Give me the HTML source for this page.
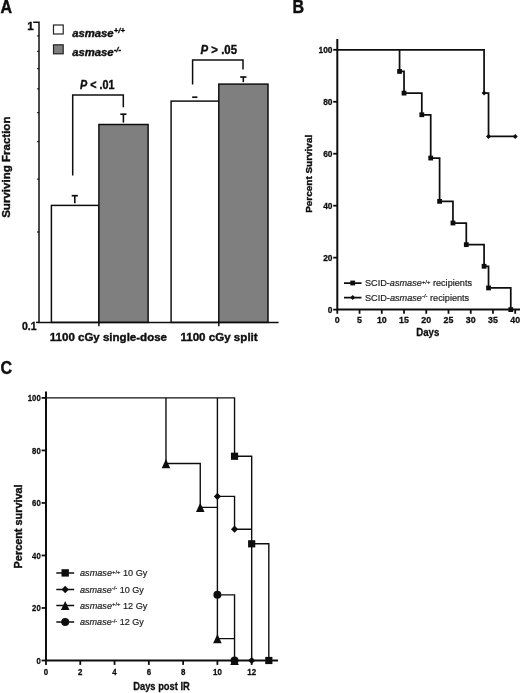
<!DOCTYPE html>
<html lang="en">
<head>
<meta charset="utf-8">
<title>Figure: asmase survival</title>
<style>
html,body{margin:0;padding:0;background:#fff;}
body{width:520px;height:693px;overflow:hidden;}
svg{display:block;font-family:"Liberation Sans", Arial, Helvetica, sans-serif;}
</style>
</head>
<body>
<svg width="520" height="693" viewBox="0 0 520 693">
<defs><filter id="soft" x="0" y="0" width="100%" height="100%" filterUnits="userSpaceOnUse"><feGaussianBlur stdDeviation="0.3"/></filter></defs>
<g filter="url(#soft)">
<rect x="0" y="0" width="520" height="693" fill="#ffffff"/>
<g id="panelA">
<text transform="translate(0.6,12.7) scale(0.9,1)" font-size="17.8" font-weight="bold" fill="#111111" stroke="#111111" stroke-width="0.45">A</text>
<rect x="51.4" y="205.4" width="47.5" height="117.0" fill="#fff" stroke="#111111" stroke-width="1.5"/>
<rect x="98.9" y="124.5" width="49.2" height="197.9" fill="#7f7f7f" stroke="#111111" stroke-width="1.5"/>
<rect x="171.1" y="101.1" width="47.7" height="221.3" fill="#fff" stroke="#111111" stroke-width="1.5"/>
<rect x="218.8" y="84.1" width="49.2" height="238.3" fill="#7f7f7f" stroke="#111111" stroke-width="1.5"/>
<path d="M33.2,22.2 H39 V322.4 H278.6" fill="none" stroke="#111111" stroke-width="1.5"/>
<path d="M36,322.4 H39" fill="none" stroke="#111111" stroke-width="1.5"/>
<path d="M37.2,232.0 H39" stroke="#111111" stroke-width="1.3"/>
<path d="M37.2,179.2 H39" stroke="#111111" stroke-width="1.3"/>
<path d="M37.2,141.7 H39" stroke="#111111" stroke-width="1.3"/>
<path d="M37.2,112.6 H39" stroke="#111111" stroke-width="1.3"/>
<path d="M37.2,88.8 H39" stroke="#111111" stroke-width="1.3"/>
<path d="M37.2,68.7 H39" stroke="#111111" stroke-width="1.3"/>
<path d="M37.2,51.3 H39" stroke="#111111" stroke-width="1.3"/>
<path d="M37.2,35.9 H39" stroke="#111111" stroke-width="1.3"/>
<path d="M98.9,322.4 V326.2" stroke="#111111" stroke-width="1.5"/>
<path d="M218.8,322.4 V326.2" stroke="#111111" stroke-width="1.5"/>
<text x="33.7" y="29.7" font-size="11.6" font-weight="bold" font-style="normal" text-anchor="end" fill="#111111" stroke="#111111" stroke-width="0.4">1</text>
<text x="36.5" y="329.8" font-size="11.4" font-weight="bold" font-style="normal" text-anchor="end" fill="#111111" stroke="#111111" stroke-width="0.4" textLength="14.6" lengthAdjust="spacingAndGlyphs">0.1</text>
<text x="49.8" y="341" font-size="11.2" font-weight="bold" font-style="normal" text-anchor="start" fill="#111111" stroke="#111111" stroke-width="0.4" textLength="117.2" lengthAdjust="spacingAndGlyphs">1100 cGy single-dose</text>
<text x="180.4" y="341" font-size="11.2" font-weight="bold" font-style="normal" text-anchor="start" fill="#111111" stroke="#111111" stroke-width="0.4" textLength="77.3" lengthAdjust="spacingAndGlyphs">1100 cGy split</text>
<text transform="translate(10.4,167.2) rotate(-90)" font-size="11.6" font-weight="bold" text-anchor="middle" fill="#111111" stroke="#111111" stroke-width="0.4" textLength="101.3" lengthAdjust="spacingAndGlyphs">Surviving Fraction</text>
<rect x="53.5" y="25" width="9.7" height="9" fill="#fff" stroke="#222" stroke-width="1.2"/>
<rect x="53.5" y="44.8" width="9.7" height="9" fill="#7f7f7f" stroke="#222" stroke-width="1.2"/>
<text x="72.2" y="37" font-size="11.3" font-weight="bold" font-style="italic" fill="#111111" stroke="#111111" stroke-width="0.4">asmase<tspan font-size="7.8" dy="-4.2">+/+</tspan></text>
<text x="72.2" y="56.3" font-size="11.3" font-weight="bold" font-style="italic" fill="#111111" stroke="#111111" stroke-width="0.4">asmase<tspan font-size="7.8" dy="-4.2">-/-</tspan></text>
<text x="80" y="89.4" font-size="12" font-weight="bold" fill="#111111" stroke="#111111" stroke-width="0.4" textLength="34.4" lengthAdjust="spacingAndGlyphs"><tspan font-style="italic">P</tspan> &lt; .01</text>
<text x="200.6" y="54.4" font-size="12" font-weight="bold" fill="#111111" stroke="#111111" stroke-width="0.4" textLength="36.4" lengthAdjust="spacingAndGlyphs"><tspan font-style="italic">P</tspan> &gt; .05</text>
<path d="M72.7,175.5 V95 H123.3 V107.2" fill="none" stroke="#111111" stroke-width="1.5"/>
<path d="M192.6,84.6 V60 H243 V69.6" fill="none" stroke="#111111" stroke-width="1.5"/>
<path d="M71.7,195.7 H77.9" fill="none" stroke="#111111" stroke-width="1.7"/>
<path d="M74.8,195.7 V203.2" fill="none" stroke="#111111" stroke-width="1.6"/>
<path d="M120.3,114.2 H126.5" fill="none" stroke="#111111" stroke-width="1.7"/>
<path d="M123.4,114.2 V122.6" fill="none" stroke="#111111" stroke-width="1.6"/>
<path d="M192.2,97.2 H197.4" fill="none" stroke="#111111" stroke-width="1.7"/>
<path d="M240.2,77.0 H246.4" fill="none" stroke="#111111" stroke-width="1.7"/>
<path d="M243.3,77.0 V82.2" fill="none" stroke="#111111" stroke-width="1.6"/>
</g>
<g id="panelB">
<text transform="translate(292.4,12.5) scale(0.9,1)" font-size="17.8" font-weight="bold" fill="#111111" stroke="#111111" stroke-width="0.45">B</text>
<path d="M337.3,39 V309.6 H520" fill="none" stroke="#111111" stroke-width="2.0"/>
<path d="M333.2,309.6 H337.3" stroke="#111111" stroke-width="1.8"/>
<text x="332.5" y="312.5" font-size="8.4" font-weight="bold" font-style="normal" text-anchor="end" fill="#111111" stroke="#111111" stroke-width="0.3">0</text>
<path d="M333.2,257.64 H337.3" stroke="#111111" stroke-width="1.8"/>
<text x="332.5" y="260.54" font-size="8.4" font-weight="bold" font-style="normal" text-anchor="end" fill="#111111" stroke="#111111" stroke-width="0.3">20</text>
<path d="M333.2,205.68 H337.3" stroke="#111111" stroke-width="1.8"/>
<text x="332.5" y="208.58" font-size="8.4" font-weight="bold" font-style="normal" text-anchor="end" fill="#111111" stroke="#111111" stroke-width="0.3">40</text>
<path d="M333.2,153.72 H337.3" stroke="#111111" stroke-width="1.8"/>
<text x="332.5" y="156.62" font-size="8.4" font-weight="bold" font-style="normal" text-anchor="end" fill="#111111" stroke="#111111" stroke-width="0.3">60</text>
<path d="M333.2,101.76 H337.3" stroke="#111111" stroke-width="1.8"/>
<text x="332.5" y="104.66" font-size="8.4" font-weight="bold" font-style="normal" text-anchor="end" fill="#111111" stroke="#111111" stroke-width="0.3">80</text>
<path d="M333.2,49.8 H337.3" stroke="#111111" stroke-width="1.8"/>
<text x="332.5" y="52.7" font-size="8.4" font-weight="bold" font-style="normal" text-anchor="end" fill="#111111" stroke="#111111" stroke-width="0.3">100</text>
<path d="M337.3,309.6 V313.8" stroke="#111111" stroke-width="1.8"/>
<text x="337.3" y="322.7" font-size="8.8" font-weight="bold" font-style="normal" text-anchor="middle" fill="#111111" stroke="#111111" stroke-width="0.3">0</text>
<path d="M359.54,309.6 V313.8" stroke="#111111" stroke-width="1.8"/>
<text x="359.54" y="322.7" font-size="8.8" font-weight="bold" font-style="normal" text-anchor="middle" fill="#111111" stroke="#111111" stroke-width="0.3">5</text>
<path d="M381.78,309.6 V313.8" stroke="#111111" stroke-width="1.8"/>
<text x="381.78" y="322.7" font-size="8.8" font-weight="bold" font-style="normal" text-anchor="middle" fill="#111111" stroke="#111111" stroke-width="0.3">10</text>
<path d="M404.02,309.6 V313.8" stroke="#111111" stroke-width="1.8"/>
<text x="404.02" y="322.7" font-size="8.8" font-weight="bold" font-style="normal" text-anchor="middle" fill="#111111" stroke="#111111" stroke-width="0.3">15</text>
<path d="M426.26,309.6 V313.8" stroke="#111111" stroke-width="1.8"/>
<text x="426.26" y="322.7" font-size="8.8" font-weight="bold" font-style="normal" text-anchor="middle" fill="#111111" stroke="#111111" stroke-width="0.3">20</text>
<path d="M448.5,309.6 V313.8" stroke="#111111" stroke-width="1.8"/>
<text x="448.5" y="322.7" font-size="8.8" font-weight="bold" font-style="normal" text-anchor="middle" fill="#111111" stroke="#111111" stroke-width="0.3">25</text>
<path d="M470.74,309.6 V313.8" stroke="#111111" stroke-width="1.8"/>
<text x="470.74" y="322.7" font-size="8.8" font-weight="bold" font-style="normal" text-anchor="middle" fill="#111111" stroke="#111111" stroke-width="0.3">30</text>
<path d="M492.98,309.6 V313.8" stroke="#111111" stroke-width="1.8"/>
<text x="492.98" y="322.7" font-size="8.8" font-weight="bold" font-style="normal" text-anchor="middle" fill="#111111" stroke="#111111" stroke-width="0.3">35</text>
<path d="M515.22,309.6 V313.8" stroke="#111111" stroke-width="1.8"/>
<text x="515.22" y="322.7" font-size="8.8" font-weight="bold" font-style="normal" text-anchor="middle" fill="#111111" stroke="#111111" stroke-width="0.3">40</text>
<text x="427.8" y="336.2" font-size="10.0" font-weight="bold" font-style="normal" text-anchor="middle" fill="#111111" stroke="#111111" stroke-width="0.3" textLength="23" lengthAdjust="spacingAndGlyphs">Days</text>
<text transform="translate(312.3,173.8) rotate(-90)" font-size="9.3" font-weight="bold" text-anchor="middle" fill="#111111" stroke="#111111" stroke-width="0.4" textLength="78" lengthAdjust="spacingAndGlyphs">Percent Survival</text>
<path d="M336.43,49.8H484.95M399.57,48.92V72.31M398.69,71.44H404.89M404.02,70.56V93.98M403.14,93.11H422.69M483.2,93.11H489.4M421.81,92.23V115.62M420.94,114.75H431.58M430.71,113.88V158.94M429.83,158.06H440.48M439.6,157.19V202.22M438.73,201.34H453.82M452.95,200.47V223.88M452.07,223.01H467.17M466.29,222.13V245.53M465.42,244.65H484.95M484.08,243.78V267.17M484.08,48.92V93.98M483.2,266.29H489.4M488.53,265.42V288.83M488.53,92.23V137.26M487.65,287.96H511.64M510.77,287.08V310.48M487.65,136.39H516.1" fill="none" stroke="#111111" stroke-width="1.75"/>
<rect x="397.17" y="69.04" width="4.8" height="4.8" fill="#111111"/>
<rect x="401.62" y="90.71" width="4.8" height="4.8" fill="#111111"/>
<rect x="419.41" y="112.35" width="4.8" height="4.8" fill="#111111"/>
<rect x="428.31" y="155.66" width="4.8" height="4.8" fill="#111111"/>
<rect x="437.2" y="198.94" width="4.8" height="4.8" fill="#111111"/>
<rect x="450.55" y="220.61" width="4.8" height="4.8" fill="#111111"/>
<rect x="463.89" y="242.25" width="4.8" height="4.8" fill="#111111"/>
<rect x="481.68" y="263.89" width="4.8" height="4.8" fill="#111111"/>
<rect x="486.13" y="285.56" width="4.8" height="4.8" fill="#111111"/>
<rect x="508.37" y="307.2" width="4.8" height="4.8" fill="#111111"/>
<path d="M481.58,93.11 L484.08,90.61 L486.58,93.11 L484.08,95.61 Z" fill="#111111"/>
<path d="M486.03,136.39 L488.53,133.89 L491.03,136.39 L488.53,138.89 Z" fill="#111111"/>
<path d="M512.72,136.39 L515.22,133.89 L517.72,136.39 L515.22,138.89 Z" fill="#111111"/>
<path d="M344,283 H361.5 M344,297.6 H361.5" stroke="#111111" stroke-width="1.75"/>
<rect x="350.3" y="280.6" width="4.8" height="4.8" fill="#111111"/>
<path d="M350.2,297.6 L352.7,295.1 L355.2,297.6 L352.7,300.1 Z" fill="#111111"/>
<text x="365" y="286.1" font-size="9.2" fill="#1e1e1e" stroke="#1e1e1e" stroke-width="0.2" textLength="107" lengthAdjust="spacingAndGlyphs">SCID-<tspan font-style="italic">asmase</tspan><tspan font-size="6" dy="-2.6">+/+</tspan><tspan dy="2.6"> recipients</tspan></text>
<text x="365" y="300.8" font-size="9.2" fill="#1e1e1e" stroke="#1e1e1e" stroke-width="0.2" textLength="104.2" lengthAdjust="spacingAndGlyphs">SCID-<tspan font-style="italic">asmase</tspan><tspan font-size="6" dy="-2.6">-/-</tspan><tspan dy="2.6"> recipients</tspan></text>
</g>
<g id="panelC">
<text transform="translate(0.4,373.9) scale(0.9,1)" font-size="17.8" font-weight="bold" fill="#111111" stroke="#111111" stroke-width="0.45">C</text>
<path d="M46.0,391.6 V660.5 H278" fill="none" stroke="#111111" stroke-width="2.0"/>
<path d="M41.6,660.5 H46.0" stroke="#111111" stroke-width="1.8"/>
<text x="40.7" y="663.7" font-size="9.2" font-weight="bold" font-style="normal" text-anchor="end" fill="#111111" stroke="#111111" stroke-width="0.3" textLength="4.3" lengthAdjust="spacingAndGlyphs">0</text>
<path d="M41.6,607.98 H46.0" stroke="#111111" stroke-width="1.8"/>
<text x="40.7" y="611.18" font-size="9.2" font-weight="bold" font-style="normal" text-anchor="end" fill="#111111" stroke="#111111" stroke-width="0.3" textLength="8.6" lengthAdjust="spacingAndGlyphs">20</text>
<path d="M41.6,555.46 H46.0" stroke="#111111" stroke-width="1.8"/>
<text x="40.7" y="558.66" font-size="9.2" font-weight="bold" font-style="normal" text-anchor="end" fill="#111111" stroke="#111111" stroke-width="0.3" textLength="8.6" lengthAdjust="spacingAndGlyphs">40</text>
<path d="M41.6,502.94 H46.0" stroke="#111111" stroke-width="1.8"/>
<text x="40.7" y="506.14" font-size="9.2" font-weight="bold" font-style="normal" text-anchor="end" fill="#111111" stroke="#111111" stroke-width="0.3" textLength="8.6" lengthAdjust="spacingAndGlyphs">60</text>
<path d="M41.6,450.42 H46.0" stroke="#111111" stroke-width="1.8"/>
<text x="40.7" y="453.62" font-size="9.2" font-weight="bold" font-style="normal" text-anchor="end" fill="#111111" stroke="#111111" stroke-width="0.3" textLength="8.6" lengthAdjust="spacingAndGlyphs">80</text>
<path d="M41.6,397.9 H46.0" stroke="#111111" stroke-width="1.8"/>
<text x="40.7" y="401.1" font-size="9.2" font-weight="bold" font-style="normal" text-anchor="end" fill="#111111" stroke="#111111" stroke-width="0.3" textLength="12.9" lengthAdjust="spacingAndGlyphs">100</text>
<path d="M46.0,660.5 V664.9" stroke="#111111" stroke-width="1.8"/>
<text x="46.0" y="675.2" font-size="9.2" font-weight="bold" font-style="normal" text-anchor="middle" fill="#111111" stroke="#111111" stroke-width="0.3" textLength="4.4" lengthAdjust="spacingAndGlyphs">0</text>
<path d="M80.28,660.5 V664.9" stroke="#111111" stroke-width="1.8"/>
<text x="80.28" y="675.2" font-size="9.2" font-weight="bold" font-style="normal" text-anchor="middle" fill="#111111" stroke="#111111" stroke-width="0.3" textLength="4.4" lengthAdjust="spacingAndGlyphs">2</text>
<path d="M114.56,660.5 V664.9" stroke="#111111" stroke-width="1.8"/>
<text x="114.56" y="675.2" font-size="9.2" font-weight="bold" font-style="normal" text-anchor="middle" fill="#111111" stroke="#111111" stroke-width="0.3" textLength="4.4" lengthAdjust="spacingAndGlyphs">4</text>
<path d="M148.84,660.5 V664.9" stroke="#111111" stroke-width="1.8"/>
<text x="148.84" y="675.2" font-size="9.2" font-weight="bold" font-style="normal" text-anchor="middle" fill="#111111" stroke="#111111" stroke-width="0.3" textLength="4.4" lengthAdjust="spacingAndGlyphs">6</text>
<path d="M183.12,660.5 V664.9" stroke="#111111" stroke-width="1.8"/>
<text x="183.12" y="675.2" font-size="9.2" font-weight="bold" font-style="normal" text-anchor="middle" fill="#111111" stroke="#111111" stroke-width="0.3" textLength="4.4" lengthAdjust="spacingAndGlyphs">8</text>
<path d="M217.4,660.5 V664.9" stroke="#111111" stroke-width="1.8"/>
<text x="217.4" y="675.2" font-size="9.2" font-weight="bold" font-style="normal" text-anchor="middle" fill="#111111" stroke="#111111" stroke-width="0.3" textLength="8.8" lengthAdjust="spacingAndGlyphs">10</text>
<path d="M251.68,660.5 V664.9" stroke="#111111" stroke-width="1.8"/>
<text x="251.68" y="675.2" font-size="9.2" font-weight="bold" font-style="normal" text-anchor="middle" fill="#111111" stroke="#111111" stroke-width="0.3" textLength="8.8" lengthAdjust="spacingAndGlyphs">12</text>
<text x="161.5" y="690" font-size="10.0" font-weight="bold" font-style="normal" text-anchor="middle" fill="#111111" stroke="#111111" stroke-width="0.3" textLength="56.5" lengthAdjust="spacingAndGlyphs">Days post IR</text>
<text transform="translate(22.3,526.4) rotate(-90)" font-size="10.1" font-weight="bold" text-anchor="middle" fill="#111111" stroke="#111111" stroke-width="0.4" textLength="84" lengthAdjust="spacingAndGlyphs">Percent survival</text>
<path d="M45.3,397.9H235.24M234.54,594.15V661.2M234.54,495.68V529.9M234.54,397.2V456.95M233.84,456.25H252.38M251.68,455.55V661.2M250.98,543.8H269.52M268.82,543.1V661.2M217.4,397.2V639.33M216.7,496.38H235.24M233.84,529.2H252.38M165.98,397.2V464.25M165.28,463.55H200.96M200.26,462.85V508.03M199.56,507.33H218.1M216.7,638.63H235.24M216.7,594.85H235.24" fill="none" stroke="#111111" stroke-width="1.4"/>
<path d="M161.68,468.15 L165.98,458.95 L170.28,468.15 Z" fill="#111111"/>
<path d="M195.96,511.93 L200.26,502.73 L204.56,511.93 Z" fill="#111111"/>
<path d="M213.1,643.23 L217.4,634.03 L221.7,643.23 Z" fill="#111111"/>
<path d="M230.24,665.1 L234.54,655.9 L238.84,665.1 Z" fill="#111111"/>
<rect x="230.94" y="452.65" width="7.2" height="7.2" fill="#111111"/>
<rect x="248.08" y="540.2" width="7.2" height="7.2" fill="#111111"/>
<rect x="265.22" y="656.9" width="7.2" height="7.2" fill="#111111"/>
<path d="M213.8,496.38 L217.4,492.78 L221.0,496.38 L217.4,499.98 Z" fill="#111111"/>
<path d="M230.94,529.2 L234.54,525.6 L238.14,529.2 L234.54,532.8 Z" fill="#111111"/>
<path d="M248.08,660.5 L251.68,656.9 L255.28,660.5 L251.68,664.1 Z" fill="#111111"/>
<circle cx="217.4" cy="594.85" r="4.0" fill="#111111"/>
<circle cx="234.54" cy="660.5" r="4.0" fill="#111111"/>
<path d="M56.3,572.9H74.2M56.3,589.5H74.2M56.3,605.5H74.2M56.3,621.9H74.2" stroke="#111111" stroke-width="1.5"/>
<rect x="61.5" y="569.2" width="7.4" height="7.4" fill="#111111"/>
<path d="M61.5,589.5 L65.2,585.8 L68.9,589.5 L65.2,593.2 Z" fill="#111111"/>
<path d="M60.9,610.1 L65.2,600.9 L69.5,610.1 Z" fill="#111111"/>
<circle cx="65.2" cy="621.9" r="4.0" fill="#111111"/>
<text x="80" y="576.2" font-size="9.3" fill="#1e1e1e" stroke="#1e1e1e" stroke-width="0.2" textLength="67.4" lengthAdjust="spacingAndGlyphs"><tspan font-style="italic">asmase</tspan><tspan font-size="6" dy="-2.6">+/+</tspan><tspan dy="2.6"> 10 Gy</tspan></text>
<text x="80" y="592.8" font-size="9.3" fill="#1e1e1e" stroke="#1e1e1e" stroke-width="0.2" textLength="63.9" lengthAdjust="spacingAndGlyphs"><tspan font-style="italic">asmase</tspan><tspan font-size="6" dy="-2.6">-/-</tspan><tspan dy="2.6"> 10 Gy</tspan></text>
<text x="80" y="608.8" font-size="9.3" fill="#1e1e1e" stroke="#1e1e1e" stroke-width="0.2" textLength="67.4" lengthAdjust="spacingAndGlyphs"><tspan font-style="italic">asmase</tspan><tspan font-size="6" dy="-2.6">+/+</tspan><tspan dy="2.6"> 12 Gy</tspan></text>
<text x="80" y="625.2" font-size="9.3" fill="#1e1e1e" stroke="#1e1e1e" stroke-width="0.2" textLength="63.9" lengthAdjust="spacingAndGlyphs"><tspan font-style="italic">asmase</tspan><tspan font-size="6" dy="-2.6">-/-</tspan><tspan dy="2.6"> 12 Gy</tspan></text>
</g>
</g>
</svg>
</body>
</html>
